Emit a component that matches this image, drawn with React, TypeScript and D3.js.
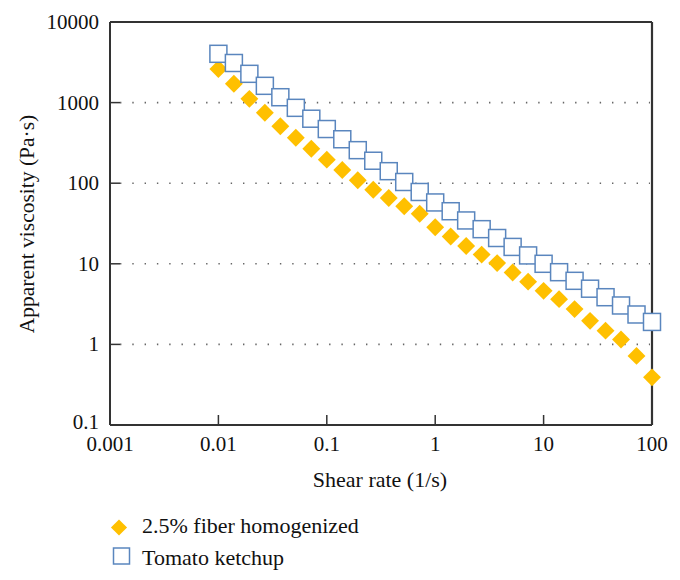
import React from "react";
import * as d3 from "d3";

const shearRates: number[] = Array.from({ length: 29 }, (_, i) => 0.01 * Math.pow(10, i / 7));

const fiberValues: number[] = [
  2612, 1714, 1114, 747, 509, 366, 268, 196, 146, 109,
  82.8, 65.5, 51.8, 41.7, 28.4, 21.8, 16.6, 13.0, 10.2, 7.8,
  6.0, 4.62, 3.64, 2.74, 1.96, 1.48, 1.15, 0.72, 0.39,
];

const ketchupValues: number[] = [
  4030, 3100, 2275, 1615, 1166, 861, 631, 470, 351, 257,
  190, 141, 103.5, 77.8, 57.7, 44.9, 34.5, 26.9, 20.9, 16.2,
  12.7, 10.0, 7.87, 6.15, 4.91, 3.85, 3.04, 2.35, 1.9,
];

const xTicks: number[] = [0.001, 0.01, 0.1, 1, 10, 100];
const xTickLabels: string[] = ["0.001", "0.01", "0.1", "1", "10", "100"];
const yTicks: number[] = [0.1, 1, 10, 100, 1000, 10000];
const yTickLabels: string[] = ["0.1", "1", "10", "100", "1000", "10000"];
const gridValues: number[] = [1, 10, 100, 1000];

const seriesNames: string[] = ["2.5% fiber homogenized", "Tomato ketchup"];

const W = 680;
const H = 580;
const left = 110;
const right = 652;
const top = 22;
const bottom = 425;

const FONT = "'Liberation Serif', 'Times New Roman', serif";
const ORANGE = "#FFC000";
const BLUE = "#5A86BE";
const AXIS = "#333333";

export default function App() {
  const x = d3.scaleLog().domain([0.001, 100]).range([left, right]);
  const y = d3.scaleLog().domain([0.1, 10000]).range([bottom, top]);
  const diamond = d3.symbol().type(d3.symbolSquare).size(160)();

  return (
    <svg
      width={W}
      height={H}
      style={{ position: "absolute", left: 0, top: 0, background: "#fff" }}
    >
      <rect x={0} y={0} width={W} height={H} fill="#fff" />
      {gridValues.map((v) => (
        <line
          key={"g" + v}
          x1={left + 10}
          x2={right - 2}
          y1={y(v)}
          y2={y(v)}
          stroke="#666"
          strokeWidth={1.6}
          strokeDasharray="1.4 10.9"
        />
      ))}
      {yTicks.map((v) => (
        <line key={"yt" + v} x1={left} x2={left + 10} y1={y(v)} y2={y(v)} stroke={AXIS} strokeWidth={1.5} />
      ))}
      {xTicks.map((v) => (
        <line key={"xt" + v} x1={x(v)} x2={x(v)} y1={bottom} y2={bottom - 10} stroke={AXIS} strokeWidth={1.5} />
      ))}
      <line x1={left} x2={right} y1={top} y2={top} stroke={AXIS} strokeWidth={1.8} />
      <line x1={right} x2={right} y1={top} y2={bottom} stroke={AXIS} strokeWidth={2.2} />
      <line x1={left} x2={right} y1={bottom} y2={bottom} stroke={AXIS} strokeWidth={2} />
      <line x1={left} x2={left} y1={top} y2={bottom} stroke={AXIS} strokeWidth={2} />
      {yTicks.map((v, i) => (
        <text
          key={"yl" + v}
          x={left - 11}
          y={y(v) + (i === 0 ? 4 : 7)}
          textAnchor="end"
          fontFamily={FONT}
          fontSize={21}
          fill="#111"
        >
          {yTickLabels[i]}
        </text>
      ))}
      {xTicks.map((v, i) => (
        <text
          key={"xl" + v}
          x={x(v)}
          y={bottom + 26}
          textAnchor="middle"
          fontFamily={FONT}
          fontSize={21}
          fill="#111"
        >
          {xTickLabels[i]}
        </text>
      ))}
      <text x={380} y={487} textAnchor="middle" fontFamily={FONT} fontSize={22} fill="#111">
        Shear rate (1/s)
      </text>
      <text
        transform={`translate(34, 224) rotate(-90)`}
        textAnchor="middle"
        fontFamily={FONT}
        fontSize={21.5}
        fill="#111"
      >
        Apparent viscosity (Pa·s)
      </text>
      {fiberValues.map((v, i) => (
        <path
          key={"d" + i}
          d={diamond!}
          transform={`translate(${x(shearRates[i])},${y(v)}) rotate(45)`}
          fill={ORANGE}
        />
      ))}
      {ketchupValues.map((v, i) => (
        <rect
          key={"s" + i}
          x={x(shearRates[i]) - 8.5}
          y={y(v) - 8.5}
          width={17}
          height={17}
          fill="#fff"
          stroke={BLUE}
          strokeWidth={1.5}
        />
      ))}
      <path d={diamond!} transform="translate(119,527.5) rotate(45) scale(0.9)" fill={ORANGE} />
      <text x={142} y={533} fontFamily={FONT} fontSize={22} fill="#111">
        {seriesNames[0]}
      </text>
      <rect x={113.5} y={548} width={16} height={16} fill="#fff" stroke={BLUE} strokeWidth={1.5} />
      <text x={142} y={565} fontFamily={FONT} fontSize={22} fill="#111">
        {seriesNames[1]}
      </text>
    </svg>
  );
}
